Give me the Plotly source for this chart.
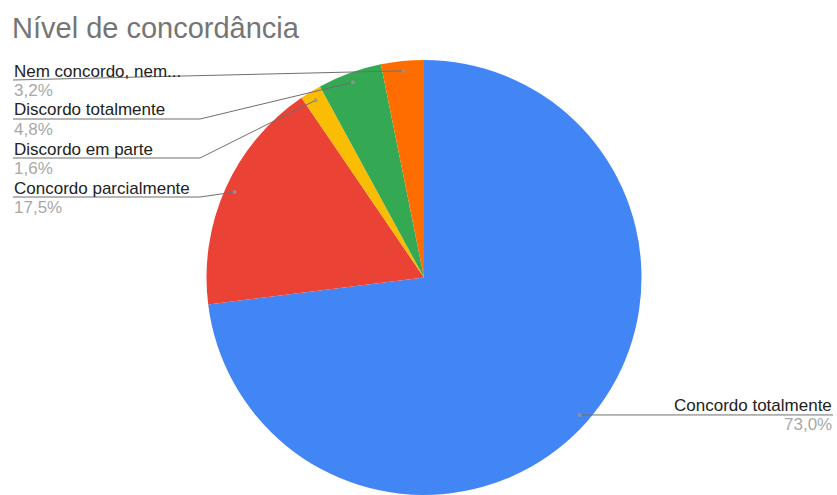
import math
import plotly.graph_objects as go

# ---- data ----
title_text = "Nível de concordância"
categories = ["Concordo totalmente", "Concordo parcialmente", "Discordo em parte",
              "Discordo totalmente", "Nem concordo, nem..."]
counts = [46, 11, 1, 3, 2]
pct_labels = ["73,0%", "17,5%", "1,6%", "4,8%", "3,2%"]
colors = ["#4285F4", "#EA4335", "#FBBC04", "#34A853", "#FF6D01"]

W, H = 837, 495
MT = 60
PH = H - MT
R = PH / 2.0
CX = 424.0
CY = MT + R

def px(x):
    return x / W

def py(y):
    return (H - y) / PH

FONT = "Arial, Liberation Sans, sans-serif"
LSIZE = 17

fig = go.Figure(go.Pie(
    labels=categories, values=counts, sort=False, direction="clockwise",
    rotation=0, marker=dict(colors=colors, line=dict(width=0)),
    textinfo="none", hoverinfo="label+percent", showlegend=False,
    domain=dict(x=[(CX - R) / W, (CX + R) / W], y=[0, 1]),
))

# dot positions from data
total = sum(counts)
cum = 0
dots = []
for c in counts:
    mid = (cum + c / 2) / total
    ang = 2 * math.pi * mid
    rd = R * 0.955
    dots.append((CX + rd * math.sin(ang), CY - rd * math.cos(ang)))
    cum += c

shapes = []
annotations = []
LINE_COL = "#6f6f6f"

# left labels (stacked, top to bottom): indices 4,3,2,1
left_order = [4, 3, 2, 1]
y0 = 80
step = 39
for k, i in enumerate(left_order):
    uy = y0 + k * step
    dx, dy = dots[i]
    bend = 200 if k > 0 else 13
    if bend > 13:
        shapes.append(dict(type="line", xref="paper", yref="paper",
                           x0=px(13), y0=py(uy), x1=px(bend), y1=py(uy),
                           line=dict(color=LINE_COL, width=1)))
    shapes.append(dict(type="line", xref="paper", yref="paper",
                       x0=px(bend), y0=py(uy), x1=px(dx), y1=py(dy),
                       line=dict(color=LINE_COL, width=1)))
    annotations.append(dict(xref="paper", yref="paper", x=px(12), y=py(uy - 9),
                            text=categories[i], showarrow=False, xanchor="left",
                            yanchor="middle", font=dict(family=FONT, size=LSIZE, color="#222222")))
    annotations.append(dict(xref="paper", yref="paper", x=px(12), y=py(uy + 10),
                            text=pct_labels[i], showarrow=False, xanchor="left",
                            yanchor="middle", font=dict(family=FONT, size=LSIZE, color="#A8A8A8")))

# right label: index 0
dx, dy = dots[0]
uy = dy
shapes.append(dict(type="line", xref="paper", yref="paper",
                   x0=px(dx), y0=py(uy), x1=px(833), y1=py(uy),
                   line=dict(color=LINE_COL, width=1)))
annotations.append(dict(xref="paper", yref="paper", x=px(834), y=py(uy - 9),
                        text=categories[0], showarrow=False, xanchor="right",
                        yanchor="middle", font=dict(family=FONT, size=LSIZE, color="#222222")))
annotations.append(dict(xref="paper", yref="paper", x=px(834), y=py(uy + 10),
                        text=pct_labels[0], showarrow=False, xanchor="right",
                        yanchor="middle", font=dict(family=FONT, size=LSIZE, color="#A8A8A8")))

# dots
for (dx, dy) in dots:
    rr = 2.0
    shapes.append(dict(type="circle", xref="paper", yref="paper",
                       x0=px(dx - rr), x1=px(dx + rr), y0=py(dy + rr), y1=py(dy - rr),
                       fillcolor="rgba(150,150,150,0.8)", line=dict(width=0)))

# title
annotations.append(dict(xref="paper", yref="paper", x=px(10), y=py(28),
                        text=title_text, showarrow=False, xanchor="left",
                        yanchor="middle", font=dict(family=FONT, size=29, color="#757575")))

fig.update_layout(
    width=W, height=H, margin=dict(l=0, r=0, t=MT, b=0),
    paper_bgcolor="white", plot_bgcolor="white",
    shapes=shapes, annotations=annotations,
)

fig.write_html("out.html")
